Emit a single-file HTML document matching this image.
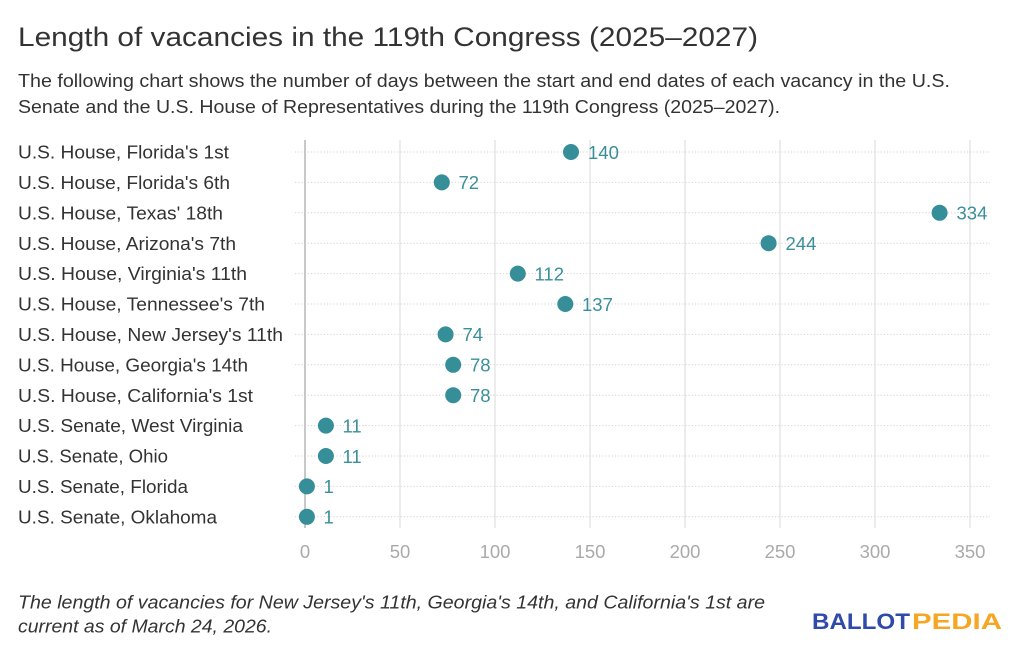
<!DOCTYPE html>
<html><head><meta charset="utf-8"><style>
html,body{margin:0;padding:0;background:#fff;}
svg{display:block;}
text{font-family:"Liberation Sans",Arial,sans-serif;}
</style></head><body>
<svg width="1024" height="656" viewBox="0 0 1024 656" xmlns="http://www.w3.org/2000/svg">
<rect width="1024" height="656" fill="#fff"/>
<text x="18" y="46" font-size="27" fill="#333" textLength="740" lengthAdjust="spacingAndGlyphs">Length of vacancies in the 119th Congress (2025–2027)</text>
<text x="18" y="87" font-size="18" fill="#333" textLength="932" lengthAdjust="spacingAndGlyphs">The following chart shows the number of days between the start and end dates of each vacancy in the U.S.</text>
<text x="18" y="113" font-size="18" fill="#333" textLength="762" lengthAdjust="spacingAndGlyphs">Senate and the U.S. House of Representatives during the 119th Congress (2025–2027).</text>

<g stroke="#e6e6e6" stroke-width="1.5">
<line x1="400" y1="140" x2="400" y2="528"/>
<line x1="495" y1="140" x2="495" y2="528"/>
<line x1="590" y1="140" x2="590" y2="528"/>
<line x1="685" y1="140" x2="685" y2="528"/>
<line x1="780" y1="140" x2="780" y2="528"/>
<line x1="875" y1="140" x2="875" y2="528"/>
<line x1="970" y1="140" x2="970" y2="528"/>
</g>
<g stroke="#d2d2d2" stroke-width="1" stroke-dasharray="1.2 2">
<line x1="295" y1="152" x2="990" y2="152"/>
<line x1="295" y1="182.4" x2="990" y2="182.4"/>
<line x1="295" y1="212.8" x2="990" y2="212.8"/>
<line x1="295" y1="243.2" x2="990" y2="243.2"/>
<line x1="295" y1="273.6" x2="990" y2="273.6"/>
<line x1="295" y1="304" x2="990" y2="304"/>
<line x1="295" y1="334.4" x2="990" y2="334.4"/>
<line x1="295" y1="364.8" x2="990" y2="364.8"/>
<line x1="295" y1="395.2" x2="990" y2="395.2"/>
<line x1="295" y1="425.6" x2="990" y2="425.6"/>
<line x1="295" y1="456" x2="990" y2="456"/>
<line x1="295" y1="486.4" x2="990" y2="486.4"/>
<line x1="295" y1="516.8" x2="990" y2="516.8"/>
</g>
<line x1="305" y1="140" x2="305" y2="528" stroke="#c8c8c8" stroke-width="2"/>

<g font-size="18" fill="#333">
<text x="18" y="158.6" textLength="211" lengthAdjust="spacingAndGlyphs">U.S. House, Florida's 1st</text>
<text x="18" y="189" textLength="212" lengthAdjust="spacingAndGlyphs">U.S. House, Florida's 6th</text>
<text x="18" y="219.4" textLength="205" lengthAdjust="spacingAndGlyphs">U.S. House, Texas' 18th</text>
<text x="18" y="249.8" textLength="218" lengthAdjust="spacingAndGlyphs">U.S. House, Arizona's 7th</text>
<text x="18" y="280.2" textLength="229" lengthAdjust="spacingAndGlyphs">U.S. House, Virginia's 11th</text>
<text x="18" y="310.6" textLength="247" lengthAdjust="spacingAndGlyphs">U.S. House, Tennessee's 7th</text>
<text x="18" y="341" textLength="265" lengthAdjust="spacingAndGlyphs">U.S. House, New Jersey's 11th</text>
<text x="18" y="371.4" textLength="230" lengthAdjust="spacingAndGlyphs">U.S. House, Georgia's 14th</text>
<text x="18" y="401.8" textLength="235" lengthAdjust="spacingAndGlyphs">U.S. House, California's 1st</text>
<text x="18" y="432.2" textLength="225" lengthAdjust="spacingAndGlyphs">U.S. Senate, West Virginia</text>
<text x="18" y="462.6" textLength="150" lengthAdjust="spacingAndGlyphs">U.S. Senate, Ohio</text>
<text x="18" y="493" textLength="170" lengthAdjust="spacingAndGlyphs">U.S. Senate, Florida</text>
<text x="18" y="523.4" textLength="199" lengthAdjust="spacingAndGlyphs">U.S. Senate, Oklahoma</text>
</g>

<g fill="#368e99">
<circle cx="571" cy="152" r="8"/>
<circle cx="441.8" cy="182.4" r="8"/>
<circle cx="939.6" cy="212.8" r="8"/>
<circle cx="768.6" cy="243.2" r="8"/>
<circle cx="517.8" cy="273.6" r="8"/>
<circle cx="565.3" cy="304" r="8"/>
<circle cx="445.6" cy="334.4" r="8"/>
<circle cx="453.2" cy="364.8" r="8"/>
<circle cx="453.2" cy="395.2" r="8"/>
<circle cx="325.9" cy="425.6" r="8"/>
<circle cx="325.9" cy="456" r="8"/>
<circle cx="306.9" cy="486.4" r="8"/>
<circle cx="306.9" cy="516.8" r="8"/>
</g>
<g font-size="18.5" fill="#3a8f9a">
<text x="588" y="158.8">140</text>
<text x="458.5" y="189.2">72</text>
<text x="956.5" y="219.6">334</text>
<text x="785.5" y="250">244</text>
<text x="534.5" y="280.4">112</text>
<text x="582" y="310.8">137</text>
<text x="462.5" y="341.2">74</text>
<text x="470" y="371.6">78</text>
<text x="470" y="402">78</text>
<text x="342.5" y="432.4">11</text>
<text x="342.5" y="462.8">11</text>
<text x="323.5" y="493.2">1</text>
<text x="323.5" y="523.6">1</text>
</g>

<g font-size="18.5" fill="#aaaaaa" text-anchor="middle">
<text x="305" y="558">0</text>
<text x="400" y="558">50</text>
<text x="495" y="558">100</text>
<text x="590" y="558">150</text>
<text x="685" y="558">200</text>
<text x="780" y="558">250</text>
<text x="875" y="558">300</text>
<text x="970" y="558">350</text>
</g>

<g font-size="18" fill="#333" font-style="italic">
<text x="18" y="608.5" textLength="747" lengthAdjust="spacingAndGlyphs">The length of vacancies for New Jersey's 11th, Georgia's 14th, and California's 1st are</text>
<text x="18" y="632.5" textLength="254" lengthAdjust="spacingAndGlyphs">current as of March 24, 2026.</text>
</g>
<text x="812" y="629" font-size="22" font-weight="bold" fill="#2f4aa8" textLength="98" lengthAdjust="spacingAndGlyphs">BALLOT</text>
<text x="912" y="629" font-size="22" font-weight="bold" fill="#f5a623" textLength="90" lengthAdjust="spacingAndGlyphs">PEDIA</text>
</svg>
</body></html>
